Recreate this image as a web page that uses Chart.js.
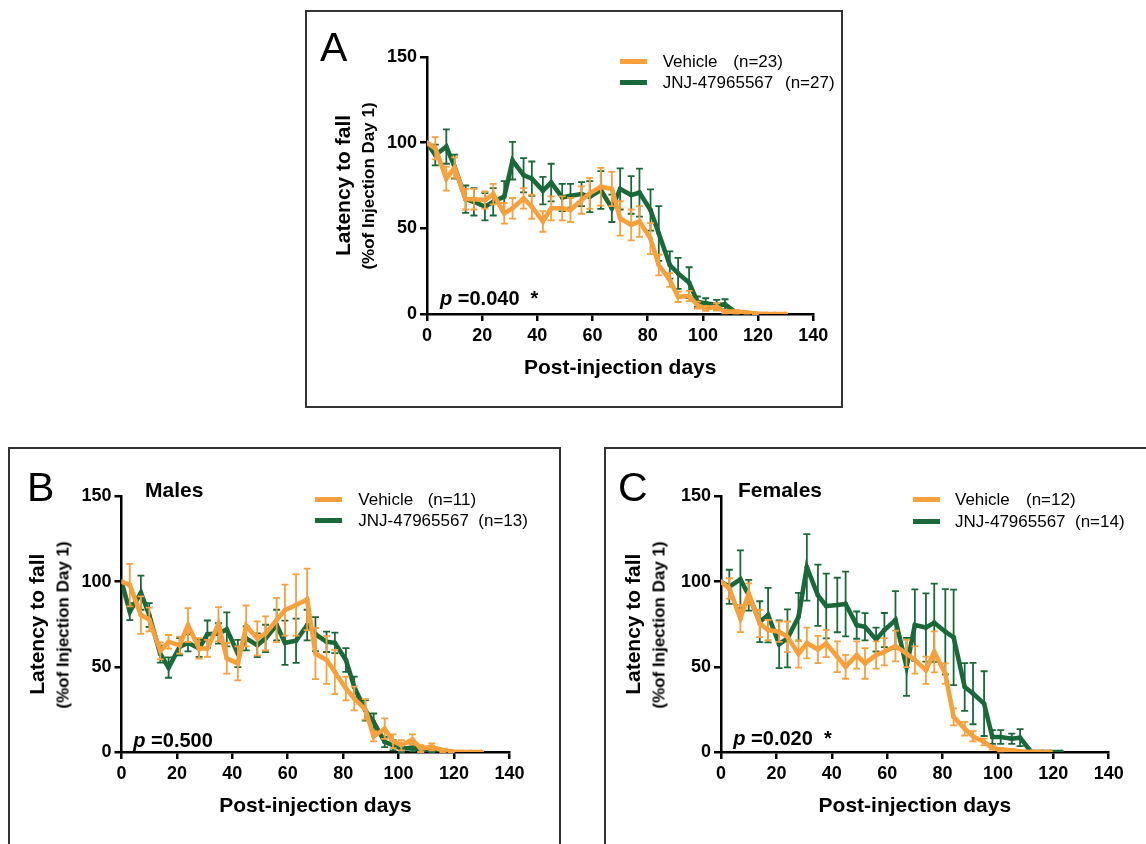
<!DOCTYPE html>
<html><head><meta charset="utf-8">
<script src="https://cdn.jsdelivr.net/npm/chart.js@4.4.1/dist/chart.umd.min.js"></script>
<style>
html,body{margin:0;padding:0;background:#fff;}
body{width:1146px;height:844px;position:relative;overflow:hidden;font-family:'Liberation Sans',Arial,sans-serif;color:#000;}
canvas{position:absolute;left:0;top:0;}
.box{position:absolute;border:2px solid #333;box-sizing:border-box;}
.t{position:absolute;white-space:pre;line-height:1;}
.sw{position:absolute;height:5px;width:27px;}
.dot{position:absolute;width:5px;height:5px;border-radius:50%;}
.sub{position:absolute;white-space:nowrap;line-height:1;font-weight:bold;font-size:17px;transform:translate(-50%,-50%) rotate(-90deg);}
</style></head><body>
<div class="box" style="left:305px;top:10px;width:538px;height:398px"></div>
<div class="box" style="left:8px;top:447px;width:553px;height:420px"></div>
<div class="box" style="left:604px;top:447px;width:560px;height:420px"></div>
<canvas id="cA" width="1146" height="844"></canvas>
<canvas id="cB" width="1146" height="844"></canvas>
<canvas id="cC" width="1146" height="844"></canvas>
<script>
// ---------- data ----------
const days = [0,3,7,10,14,17,21,24,28,31,35,38,42,45,49,52,56,59,63,67,70,74,77,81,84,88,91,95,98,101,105,108,112,116,119,123,126,130];
const xTickValues = [0,20,40,60,80,100,120,140];
const yTickValues = [0,50,100,150];

const seriesNames = ['Vehicle', 'JNJ-47965567'];
const nA = ['(n=23)', '(n=27)'];
const nB = ['(n=11)', '(n=13)'];
const nC = ['(n=12)', '(n=14)'];

// Panel A (all)
const vehA    = [100,96.7,79,85.4,67,67,66.5,70,58.8,61.7,67.5,62.6,54,61.7,61.7,60.7,66.5,70.4,74.3,73,55.8,52,54,44,28.6,19.8,10,10.5,5.2,3.3,4.3,1.4,1.4,0.8,0.3,0,0,0];
const vehAErr = [0,6.5,7,6,6,6,5,6,6,6,6,7,6,7,7,7,8,9,11,10,10,9,9,9,6,4,3,3,2,1.5,2,1,1,0.5,0.5,0,0,0];
const jnjA    = [100,92.8,97.7,86,67,65.5,62.6,65.5,68.5,89.5,81,79,72,76.7,68,69,70,68.5,72.4,61.7,73,69.5,70.8,60.7,47,28.6,23.7,18.3,7.2,6.2,5.2,5.6,0.8];
const jnjAErr = [0,6,10,7,8,8,8,8,9,11,10,10,8,11,8,7,7,9,11,8,12,11,14,12,16,8,9,9,3,3,3,3,0.5];

// Panel B (males)
const vehB    = [100,98,80.4,77.8,59.4,64.7,62.7,74.5,60.8,60.8,75,55,52,74,66.7,69.6,77.5,83.3,86.3,89.6,57.8,54,47,37.3,31.4,25,9.2,13.7,6.3,4,7.3,2,3,1,0.3,0,0,0];
const vehBErr = [0,12.5,11,7,5,4,5,10,6,5,10,9,10,12,10,10,13,15,18,18,15,14,13,7,7,6,3,6,4,3,3,2,2,1,0.5,0,0,0];
const jnjB    = [100,82.4,93.5,80.4,57.5,49.6,61.8,64.1,60.8,69.2,69.6,72,57.8,66.7,62.7,66.7,74.5,64.1,65.3,74.5,69.2,64.7,64.1,54,38.2,24.5,17.6,5.9,4,2,2.4,1.4,0.6,0.2,0];
const jnjBErr = [0,5,10,7,5,6,5,5,5,8,6,10,8,7,7,8,9,13,13,9,10,6,6,7,6,6,5,3,3,2,2,1,1,0,0];

// Panel C (females)
const vehC    = [100,96,78.4,93,75.5,71.6,70.6,67.6,57.5,64,60.2,63.7,55.9,50,56.9,52,56.9,58.8,62.2,57.8,54,48,58.8,46,20.6,13.7,9.2,5.9,2.4,1.4,1,0.4,0,0,0];
const vehCErr = [0,6,8,6,8,6,6,9,8,9,8,8,9,7,8,9,8,8,9,8,8,8,12,6,5,4,3,2,1,1,0.5,0,0,0,0];
const jnjC    = [100,97,101.4,92,76.5,80.4,63.3,66.7,79.4,108.4,92,85.7,86.3,86.9,74.5,73.5,66,71.6,77.5,50,74.5,73.1,75.9,70.6,67.3,38.2,34.3,28.4,8.8,8.8,7.8,8.4,0,0,0,0];
const jnjCErr = [0,10,17,9,12,16,14,17,14,19.5,18,19,16,19,8,8,7,10,17,17,21,20,23,25,28,14,18,19,4,4,3,5,0,0,0,0];

// ---------- style ----------
const ORANGE = '#F7A03C';
const GREEN = '#19693B';
const FONT = "'Liberation Sans', Arial, sans-serif";

function pts(vals){ return vals.map((v,i)=>({x:days[i], y:v})); }

const errorBars = {
  id:'errorBars',
  beforeDatasetDraw(chart, args){
    const ds = chart.data.datasets[args.index];
    if(!ds.errors) return;
    const ctx = chart.ctx, xs = chart.scales.x, ys = chart.scales.y;
    ctx.save();
    ctx.strokeStyle = ds.borderColor;
    ctx.lineWidth = 1.8;
    ds.data.forEach((p,i)=>{
      const e = ds.errors[i];
      if(!e) return;
      const x = xs.getPixelForValue(p.x);
      const yt = ys.getPixelForValue(p.y + e);
      const yb = ys.getPixelForValue(Math.max(p.y - e, 0));
      ctx.beginPath();
      ctx.moveTo(x, yt); ctx.lineTo(x, yb);
      ctx.moveTo(x-3.5, yt); ctx.lineTo(x+3.5, yt);
      ctx.moveTo(x-3.5, yb); ctx.lineTo(x+3.5, yb);
      ctx.stroke();
    });
    ctx.restore();
  }
};

function makeChart(id, area, veh, vehErr, jnj, jnjErr, yTitlePad){
  const yW = 100, xH = 70;
  const ctx = document.getElementById(id);
  return new Chart(ctx, {
    type:'line',
    data:{datasets:[
      {label:seriesNames[0], data:pts(veh), errors:vehErr, borderColor:ORANGE, backgroundColor:ORANGE,
       borderWidth:4.6, pointRadius:2.4, pointBorderWidth:0, tension:0},
      {label:seriesNames[1], data:pts(jnj), errors:jnjErr, borderColor:GREEN, backgroundColor:GREEN,
       borderWidth:4.6, pointRadius:2.4, pointBorderWidth:0, tension:0}
    ]},
    options:{
      responsive:false, animation:false, events:[],
      layout:{padding:{left:area.L - yW, right:1146 - area.R, top:area.T, bottom:844 - area.B - xH}},
      plugins:{legend:{display:false}, tooltip:{enabled:false}, title:{display:false}},
      scales:{
        x:{type:'linear', min:0, max:140,
           afterBuildTicks(s){ s.ticks = xTickValues.map(v=>({value:v})); },
           afterFit(s){ s.height = xH; },
           grid:{display:true, drawOnChartArea:false, drawTicks:true, tickLength:7, lineWidth:2.5, color:'#000'},
           border:{display:true, width:2.5, color:'#000'},
           ticks:{font:{family:FONT, size:18, weight:'bold'}, color:'#000', padding:4, maxRotation:0, autoSkip:false},
           title:{display:true, text:'Post-injection days', font:{family:FONT, size:21, weight:'bold'}, color:'#000', padding:{top:0, bottom:2.8}}
        },
        y:{type:'linear', min:0, max:150,
           afterBuildTicks(s){ s.ticks = yTickValues.map(v=>({value:v})); },
           afterFit(s){ s.width = yW; },
           grid:{display:true, drawOnChartArea:false, drawTicks:true, tickLength:7, lineWidth:2.5, color:'#000'},
           border:{display:true, width:2.5, color:'#000'},
           ticks:{font:{family:FONT, size:18, weight:'bold'}, color:'#000', padding:3},
           title:{display:true, text:'Latency to fall', font:{family:FONT, size:21, weight:'bold'}, color:'#000', padding:{top:yTitlePad, bottom:0}}
        }
      }
    },
    plugins:[errorBars]
  });
}

makeChart('cA', {L:427, R:813.3, T:57, B:314}, vehA, vehAErr, jnjA, jnjAErr, 4.9);
makeChart('cB', {L:121.5, R:509.4, T:496.5, B:752}, vehB, vehBErr, jnjB, jnjBErr, 4.4);
makeChart('cC', {L:721, R:1108.7, T:496.5, B:752}, vehC, vehCErr, jnjC, jnjCErr, 0.4);

// ---------- HTML text overlays ----------
function text(str, left, baseline, size, weight, extra){
  const d = document.createElement('div');
  d.className = 't';
  d.style.left = left + 'px';
  d.style.top = (baseline - 0.8465*size) + 'px';
  d.style.fontSize = size + 'px';
  d.style.fontWeight = weight || 'normal';
  if(extra) Object.assign(d.style, extra);
  d.innerHTML = str;
  document.body.appendChild(d);
  return d;
}
function sub(cx, cy){
  const d = document.createElement('div');
  d.className = 'sub';
  d.style.left = cx + 'px'; d.style.top = cy + 'px';
  d.textContent = '(%of Injection Day 1)';
  document.body.appendChild(d);
}
function legend(x0, y1, y2, textX, nX, ns){
  [[y1, ORANGE, seriesNames[0], ns[0], nX[0]],[y2, GREEN, seriesNames[1], ns[1], nX[1]]].forEach(r=>{
    const s = document.createElement('div'); s.className='sw';
    s.style.left = x0+'px'; s.style.top = (r[0]-2.5)+'px'; s.style.background = r[1];
    document.body.appendChild(s);
    const d = document.createElement('div'); d.className='dot';
    d.style.left = (x0+11)+'px'; d.style.top = (r[0]-2.5)+'px'; d.style.background = r[1];
    document.body.appendChild(d);
    text(r[2], textX, r[0]+6.1, 17);
    text(r[3], r[4], r[0]+6.1, 17);
  });
}

// Panel letters
text('A', 320, 61.7, 41);
text('B', 27, 501.7, 41);
text('C', 618, 501.7, 41);
// Sub titles
text('Males', 145, 497, 21, 'bold');
text('Females', 738, 497, 21, 'bold');
// y subtitles
sub(367.5, 185.5); sub(62.5, 624.5); sub(659, 624.5);
// legends
legend(620, 61, 82.5, 662.7, [733.3, 785], nA);
legend(315, 499.3, 520, 358.3, [427.7, 478.3], nB);
legend(913, 499.3, 521.5, 955, [1026, 1075], nC);
// p values
text('<i>p</i> =0.040  *', 440, 305, 20, 'bold');
text('<i>p</i> =0.500', 133.3, 746.7, 20, 'bold');
text('<i>p</i> =0.020  *', 733.3, 745, 20, 'bold');
</script>
</body></html>
